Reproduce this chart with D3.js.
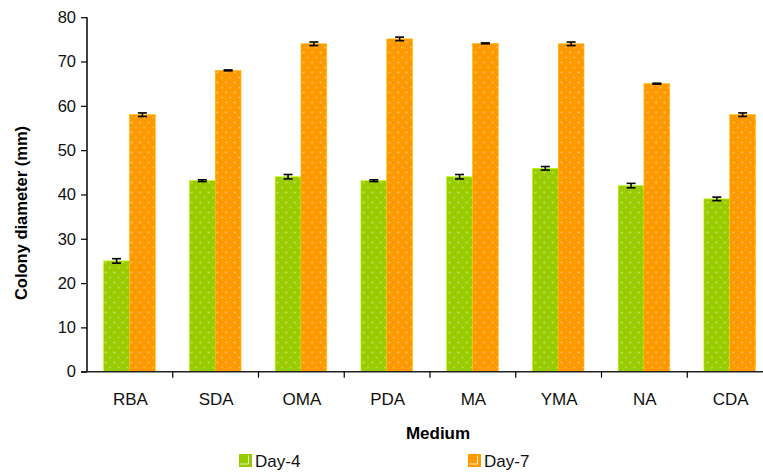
<!DOCTYPE html>
<html>
<head>
<meta charset="utf-8">
<script src="https://cdn.jsdelivr.net/npm/d3@7"></script>
<style>
html,body{margin:0;padding:0;background:#fff;}
svg{display:block;font-family:"Liberation Sans",Arial,sans-serif;}
</style>
</head>
<body>
<svg id="chart" width="763" height="473"></svg>
<script>
const categories = ["RBA","SDA","OMA","PDA","MA","YMA","NA","CDA"];
const seriesNames = ["Day-4","Day-7"];
const day4 = [25.0, 43.1, 44.0, 43.1, 44.0, 45.9, 42.0, 39.0];
const day7 = [58.0, 68.0, 74.0, 75.1, 74.1, 74.0, 65.0, 58.0];
const err4 = [0.5, 0.2, 0.5, 0.2, 0.5, 0.4, 0.5, 0.4];
const err7 = [0.4, 0.1, 0.4, 0.4, 0.1, 0.4, 0.1, 0.4];
const yTicks = [0,10,20,30,40,50,60,70,80];
const colors = ["#99cc00","#ff9900"];

const svg = d3.select("#chart");
const x0 = 87, x1 = 773, yTop = 17.2, yBot = 371.7;

const x = d3.scaleBand().domain(categories).range([x0, x1]).paddingInner(0).paddingOuter(0);
const y = d3.scaleLinear().domain([0,80]).range([yBot, yTop]);
const barW = 25.8;
const xs = d3.scaleBand().domain(seriesNames).range([0, barW*2]);

// patterns
const defs = svg.append("defs");
colors.forEach((c,i)=>{
  const p = defs.append("pattern").attr("id","pat"+i).attr("patternUnits","userSpaceOnUse")
    .attr("width",8.6).attr("height",10).attr("x",0).attr("y",0);
  p.append("rect").attr("width",8.6).attr("height",10).attr("fill",c);
  p.append("circle").attr("cx",2.5).attr("cy",2.5).attr("r",1.1).attr("fill","#fff").attr("opacity",0.4);
  p.append("circle").attr("cx",6.8).attr("cy",7.5).attr("r",1.1).attr("fill","#fff").attr("opacity",0.3);
});

const data = [day4, day7];
const errs = [err4, err7];

data.forEach((vals, si)=>{
  const g = svg.append("g");
  g.selectAll("rect").data(categories).join("rect")
    .attr("x", d => x(d) + x.bandwidth()/2 - barW - 0.4 + xs(seriesNames[si]))
    .attr("width", barW)
    .attr("y", (d,i) => y(vals[i]))
    .attr("height", (d,i) => yBot - y(vals[i]))
    .attr("fill", "url(#pat"+si+")")
    .attr("stroke", d3.color(colors[si]).brighter(0.6))
    .attr("stroke-width", 0.6);
});

// error bars
data.forEach((vals, si)=>{
  const g = svg.append("g").attr("stroke","#000").attr("stroke-width",1.6);
  categories.forEach((c,i)=>{
    const cx = x(c) + x.bandwidth()/2 - barW - 0.4 + xs(seriesNames[si]) + barW/2;
    const lo = y(vals[i]-errs[si][i]), hi = y(vals[i]+errs[si][i]);
    g.append("line").attr("x1",cx).attr("x2",cx).attr("y1",lo).attr("y2",hi);
    g.append("line").attr("x1",cx-4.5).attr("x2",cx+4.5).attr("y1",lo).attr("y2",lo);
    g.append("line").attr("x1",cx-4.5).attr("x2",cx+4.5).attr("y1",hi).attr("y2",hi);
  });
});

// Y axis
const yAxis = d3.axisLeft(y).tickValues(yTicks).tickSize(6).tickPadding(5);
const gy = svg.append("g").attr("transform",`translate(${x0},0)`).call(yAxis);
gy.select(".domain").attr("stroke","#000").attr("stroke-width",1.5).attr("d",`M0,${yTop}V${yBot}`);
gy.selectAll(".tick line").attr("stroke","#000").attr("stroke-width",1.2);
gy.selectAll(".tick text").attr("font-size",16.5).attr("fill","#111").attr("font-family","Liberation Sans, Arial, sans-serif");

// X axis
const gx = svg.append("g").attr("transform",`translate(0,${yBot})`);
gx.append("line").attr("x1",x0-6).attr("x2",x1).attr("y1",0).attr("y2",0).attr("stroke","#222").attr("stroke-width",1.5);
const bounds = categories.map(c => x(c) + x.bandwidth());
gx.selectAll("line.tk").data(bounds).join("line").attr("class","tk")
  .attr("x1",d=>d).attr("x2",d=>d).attr("y1",0).attr("y2",6).attr("stroke","#000").attr("stroke-width",1.2);
gx.selectAll("text").data(categories).join("text")
  .attr("x", d => x(d) + x.bandwidth()/2 + 0.5)
  .attr("y", 33.3)
  .attr("text-anchor","middle")
  .attr("font-size",17).attr("fill","#111")
  .text(d=>d);

// Axis titles
svg.append("text").attr("x",438).attr("y",438.5).attr("text-anchor","middle")
  .attr("font-size",17).attr("font-weight","bold").attr("fill","#000").text("Medium");
svg.append("text").attr("transform",`translate(26.5,213) rotate(-90)`).attr("text-anchor","middle")
  .attr("font-size",16.5).attr("font-weight","bold").attr("fill","#000").text("Colony diameter (mm)");

// Legend
const legX = [239, 468];
seriesNames.forEach((s,i)=>{
  const g = svg.append("g").attr("transform",`translate(${legX[i]},454)`);
  g.append("rect").attr("width",13).attr("height",13).attr("fill",colors[i]);
  g.append("path").attr("d","M9.5,1.5V10H1.5").attr("fill","none").attr("stroke","#fff").attr("stroke-width",1).attr("opacity",0.8);
  g.append("text").attr("x",16).attr("y",12.8).attr("font-size",17).attr("fill","#111").text(s);
});
</script>
</body>
</html>
